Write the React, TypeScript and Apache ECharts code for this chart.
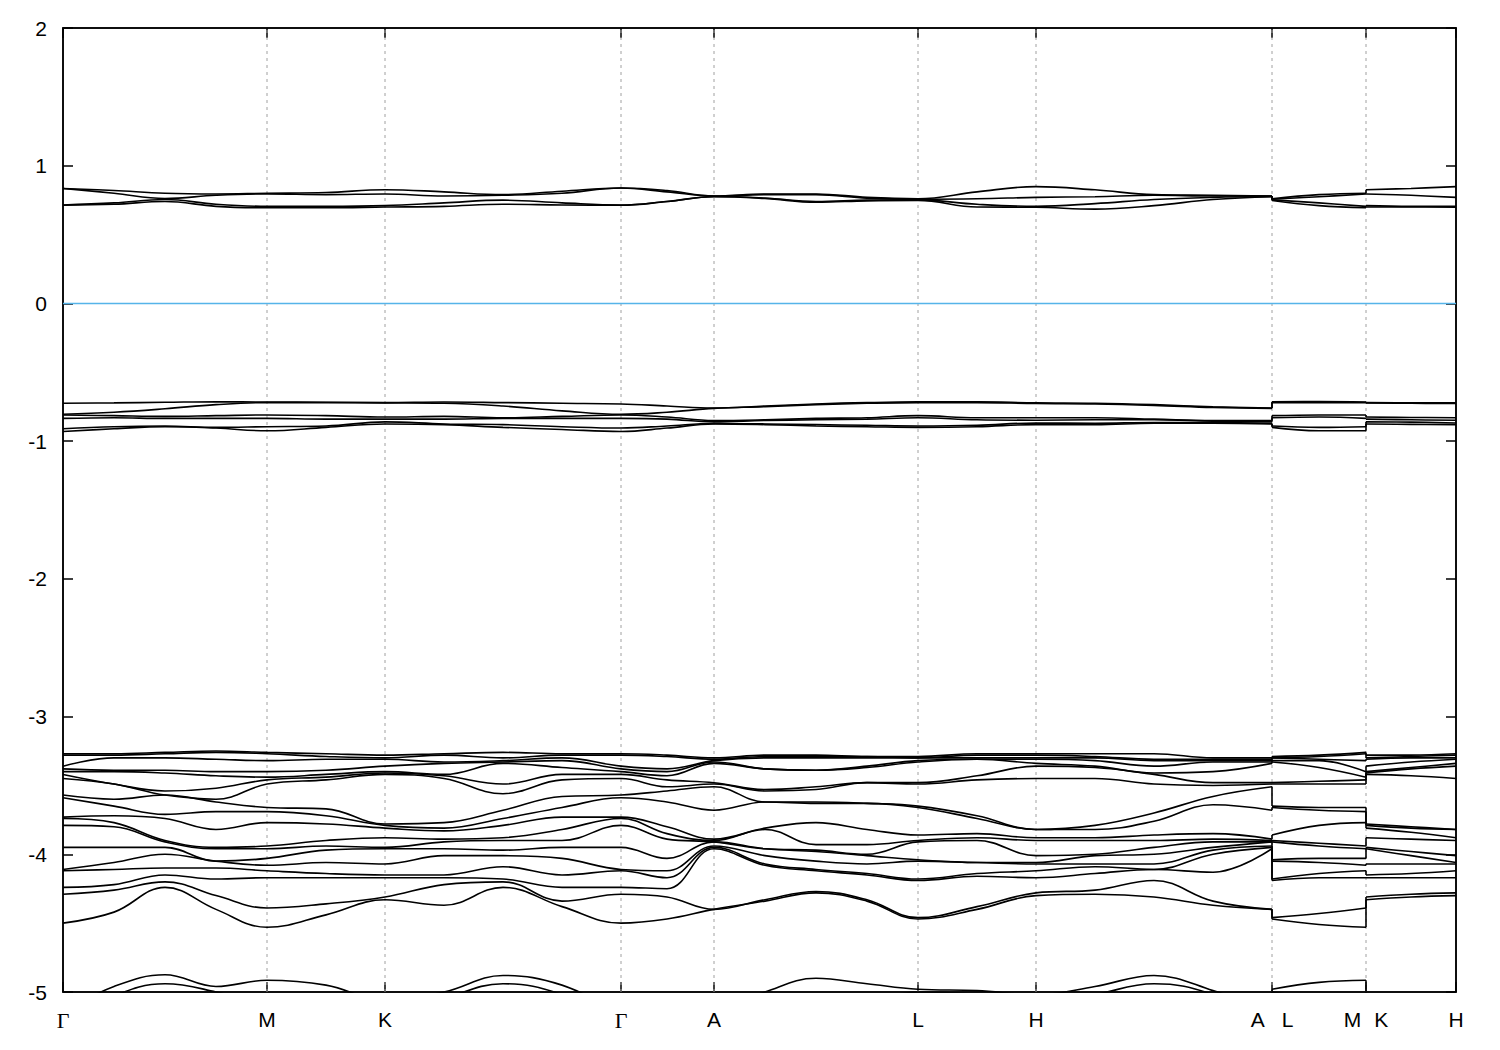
import React, { useEffect, useRef } from 'react';
import * as echarts from 'echarts';

// high-symmetry points along the k-path (path length units)
const kTicks = [0, 204, 322, 558, 651, 855, 973, 1209, 1303, 1393];
const kLabels = ['Γ', 'M', 'K', 'Γ', 'A', 'L', 'H', 'A|L', 'M|K', 'H'];

// sample positions: Γ-M-K-Γ-A-L-H-A, then L-M, then K-H
const pathX = [0, 51, 102, 153, 204, 263, 322, 381, 440, 499, 558, 604, 651, 702, 753, 804, 855, 914, 973, 1032, 1091, 1150, 1209];
const lmX = [1209, 1256, 1303];
const khX = [1303, 1348, 1393];

// energies (eV): 23 values on the main path, 3 on L-M, 3 on K-H
const upperBands = [
  [0.835, 0.82, 0.80, 0.795, 0.80, 0.805, 0.826, 0.81, 0.79, 0.815, 0.838, 0.82, 0.78, 0.795, 0.795, 0.77, 0.76, 0.81, 0.848, 0.825, 0.79, 0.785, 0.78, 0.76, 0.79, 0.80, 0.826, 0.835, 0.848],
  [0.835, 0.80, 0.762, 0.785, 0.795, 0.79, 0.795, 0.78, 0.785, 0.80, 0.838, 0.81, 0.78, 0.79, 0.79, 0.765, 0.757, 0.76, 0.77, 0.775, 0.785, 0.78, 0.78, 0.757, 0.775, 0.795, 0.795, 0.785, 0.77],
  [0.715, 0.73, 0.755, 0.72, 0.705, 0.705, 0.71, 0.73, 0.75, 0.73, 0.715, 0.74, 0.776, 0.765, 0.74, 0.75, 0.752, 0.72, 0.705, 0.725, 0.755, 0.77, 0.776, 0.752, 0.73, 0.705, 0.71, 0.705, 0.705],
  [0.713, 0.72, 0.74, 0.705, 0.695, 0.695, 0.70, 0.705, 0.72, 0.715, 0.713, 0.74, 0.775, 0.762, 0.735, 0.745, 0.748, 0.70, 0.698, 0.685, 0.71, 0.755, 0.775, 0.748, 0.71, 0.695, 0.70, 0.70, 0.698],
];

const middleBands = [
  [-0.725, -0.722, -0.718, -0.714, -0.716, -0.718, -0.72, -0.716, -0.72, -0.725, -0.73, -0.745, -0.76, -0.745, -0.73, -0.72, -0.715, -0.715, -0.722, -0.725, -0.735, -0.75, -0.76, -0.715, -0.713, -0.716, -0.72, -0.722, -0.722],
  [-0.805, -0.79, -0.765, -0.735, -0.72, -0.72, -0.722, -0.725, -0.745, -0.78, -0.805, -0.79, -0.762, -0.75, -0.735, -0.725, -0.72, -0.72, -0.727, -0.73, -0.74, -0.755, -0.762, -0.72, -0.72, -0.72, -0.722, -0.725, -0.727],
  [-0.81, -0.815, -0.82, -0.815, -0.81, -0.815, -0.825, -0.82, -0.83, -0.82, -0.81, -0.825, -0.85, -0.845, -0.835, -0.83, -0.815, -0.83, -0.83, -0.83, -0.84, -0.85, -0.85, -0.815, -0.81, -0.81, -0.825, -0.828, -0.83],
  [-0.835, -0.83, -0.835, -0.835, -0.835, -0.84, -0.84, -0.84, -0.835, -0.835, -0.835, -0.84, -0.86, -0.85, -0.845, -0.84, -0.83, -0.845, -0.848, -0.845, -0.845, -0.855, -0.86, -0.83, -0.825, -0.835, -0.84, -0.845, -0.848],
  [-0.91, -0.895, -0.89, -0.90, -0.895, -0.89, -0.86, -0.875, -0.88, -0.895, -0.905, -0.89, -0.872, -0.875, -0.88, -0.885, -0.89, -0.885, -0.868, -0.87, -0.865, -0.865, -0.872, -0.89, -0.90, -0.895, -0.86, -0.862, -0.868],
  [-0.93, -0.91, -0.895, -0.905, -0.925, -0.90, -0.875, -0.88, -0.90, -0.915, -0.93, -0.905, -0.875, -0.88, -0.89, -0.895, -0.90, -0.895, -0.88, -0.88, -0.87, -0.87, -0.875, -0.90, -0.925, -0.925, -0.875, -0.878, -0.88],
];

const deepBands = [
  [-5.15, -4.96, -4.875, -4.96, -4.915, -4.95, -5.06, -5.0, -4.88, -4.95, -5.15, -5.25, -5.15, -5.0, -4.9, -4.94, -4.98, -4.99, -5.02, -4.96, -4.88, -4.99, -5.15, -4.98, -4.93, -4.915, -5.06, -5.1, -5.02],
  [-5.25, -5.03, -4.94, -5.0, -5.1, -5.15, -5.2, -5.05, -4.94, -5.02, -5.25, -5.3, -5.25, -5.15, -5.05, -5.05, -5.0, -5.02, -5.1, -5.02, -4.94, -5.02, -5.25, -5.0, -5.05, -5.1, -5.2, -5.2, -5.1],
];

// lower manifold: energies at each k sample, sorted high to low (18 bands)
const lowG = [-3.27, -3.28, -3.36, -3.38, -3.40, -3.42, -3.45, -3.57, -3.59, -3.73, -3.74, -3.79, -3.95, -4.11, -4.12, -4.24, -4.29, -4.50];
const low114 = [-3.27, -3.28, -3.30, -3.39, -3.40, -3.49, -3.49, -3.60, -3.65, -3.72, -3.77, -3.80, -3.95, -4.06, -4.11, -4.22, -4.26, -4.42];
const low165 = [-3.26, -3.27, -3.30, -3.39, -3.41, -3.54, -3.57, -3.57, -3.71, -3.74, -3.90, -3.91, -3.95, -4.00, -4.10, -4.15, -4.20, -4.24];
const low216 = [-3.25, -3.26, -3.31, -3.40, -3.43, -3.52, -3.60, -3.62, -3.69, -3.82, -3.95, -3.96, -4.05, -4.05, -4.10, -4.18, -4.30, -4.40];
const lowM = [-3.26, -3.27, -3.32, -3.40, -3.44, -3.46, -3.49, -3.66, -3.69, -3.77, -3.94, -3.96, -4.03, -4.08, -4.12, -4.17, -4.39, -4.53];
const low326 = [-3.27, -3.29, -3.31, -3.39, -3.42, -3.44, -3.46, -3.67, -3.72, -3.78, -3.90, -3.94, -3.97, -4.06, -4.14, -4.17, -4.36, -4.44];
const lowK = [-3.28, -3.30, -3.31, -3.36, -3.40, -3.41, -3.42, -3.78, -3.79, -3.81, -3.88, -3.95, -3.96, -4.07, -4.15, -4.17, -4.31, -4.33];
const low444 = [-3.27, -3.28, -3.33, -3.34, -3.42, -3.43, -3.45, -3.77, -3.81, -3.83, -3.89, -3.91, -3.96, -4.01, -4.15, -4.17, -4.22, -4.37];
const low503 = [-3.26, -3.30, -3.32, -3.33, -3.34, -3.49, -3.56, -3.68, -3.74, -3.79, -3.88, -3.90, -3.97, -4.01, -4.09, -4.18, -4.20, -4.24];
const low562 = [-3.27, -3.28, -3.30, -3.32, -3.37, -3.42, -3.46, -3.58, -3.66, -3.73, -3.82, -3.90, -3.95, -4.03, -4.15, -4.24, -4.34, -4.38];
const low667 = [-3.28, -3.29, -3.38, -3.40, -3.43, -3.46, -3.51, -3.54, -3.62, -3.80, -3.85, -3.89, -4.03, -4.12, -4.17, -4.25, -4.31, -4.47];
const lowA = [-3.30, -3.31, -3.32, -3.33, -3.34, -3.48, -3.49, -3.51, -3.68, -3.89, -3.90, -3.91, -3.91, -3.94, -3.95, -3.96, -4.40, -4.40];
const low765 = [-3.28, -3.29, -3.30, -3.38, -3.38, -3.53, -3.54, -3.62, -3.62, -3.81, -3.82, -3.96, -3.96, -4.01, -4.07, -4.08, -4.33, -4.34];
const low816 = [-3.28, -3.29, -3.30, -3.39, -3.39, -3.51, -3.53, -3.62, -3.63, -3.77, -3.93, -3.97, -3.98, -4.05, -4.11, -4.12, -4.27, -4.28];
const low867 = [-3.29, -3.29, -3.30, -3.36, -3.37, -3.48, -3.48, -3.63, -3.63, -3.82, -3.93, -4.00, -4.01, -4.07, -4.14, -4.15, -4.33, -4.34];
const lowL = [-3.29, -3.30, -3.30, -3.32, -3.33, -3.48, -3.49, -3.65, -3.66, -3.86, -3.90, -3.91, -4.04, -4.05, -4.18, -4.19, -4.46, -4.47];
const low977 = [-3.27, -3.28, -3.30, -3.31, -3.31, -3.43, -3.46, -3.72, -3.74, -3.85, -3.88, -3.90, -4.06, -4.06, -4.14, -4.16, -4.38, -4.40];
const lowH = [-3.27, -3.28, -3.30, -3.31, -3.34, -3.36, -3.45, -3.82, -3.82, -3.88, -3.90, -4.01, -4.06, -4.07, -4.12, -4.17, -4.28, -4.30];
const low1095 = [-3.27, -3.29, -3.30, -3.32, -3.36, -3.37, -3.45, -3.79, -3.82, -3.88, -3.90, -4.00, -4.01, -4.07, -4.09, -4.14, -4.26, -4.29];
const low1154 = [-3.27, -3.31, -3.32, -3.36, -3.41, -3.42, -3.49, -3.70, -3.76, -3.86, -3.90, -3.95, -4.00, -4.07, -4.11, -4.11, -4.19, -4.31];
const low1213 = [-3.30, -3.31, -3.32, -3.33, -3.40, -3.48, -3.50, -3.58, -3.64, -3.85, -3.89, -3.91, -3.95, -3.97, -4.00, -4.13, -4.34, -4.37];
const lowLM = [-3.28, -3.29, -3.31, -3.32, -3.37, -3.47, -3.49, -3.66, -3.68, -3.79, -3.92, -3.94, -4.03, -4.06, -4.14, -4.17, -4.43, -4.51];
const lowKH = [-3.28, -3.29, -3.30, -3.33, -3.37, -3.38, -3.43, -3.80, -3.81, -3.84, -3.89, -3.98, -4.01, -4.07, -4.14, -4.17, -4.29, -4.31];

const lowerColumns = [
  lowG, low114, low165, low216, lowM, low326, lowK, low444, low503, low562, lowG, low667, lowA,
  low765, low816, low867, lowL, low977, lowH, low1095, low1154, low1213, lowA,
  lowL, lowLM, lowM, lowK, lowKH, lowH,
];

const FONT = 'Liberation Sans, Arial, sans-serif';

function bandSeries(row: number[]) {
  const base = {
    type: 'line',
    symbol: 'none',
    showSymbol: false,
    silent: true,
    clip: true,
    z: 3,
    lineStyle: { color: '#000', width: 1.6 },
  };
  return [
    { ...base, smooth: 0.4, data: pathX.map((x, i) => [x, row[i]]) },
    { ...base, data: [[lmX[0], row[22]], [lmX[0], row[23]]] },
    { ...base, smooth: 0.4, data: lmX.map((x, i) => [x, row[23 + i]]) },
    { ...base, data: [[khX[0], row[25]], [khX[0], row[26]]] },
    { ...base, smooth: 0.4, data: khX.map((x, i) => [x, row[26 + i]]) },
  ];
}

function labelFor(v: number) {
  const idx = kTicks.indexOf(v);
  const t = idx >= 0 ? kLabels[idx] : '';
  if (t === 'Γ') return '{g|Γ}';
  if (t === 'A|L') return '{t|A}{gapA|}{t|L}';
  if (t === 'M|K') return '{t|M}{gapM|}{t|K}';
  return '{t|' + t + '}';
}

export default function App() {
  const ref = useRef<HTMLDivElement>(null);
  useEffect(() => {
    if (!ref.current) return;
    const chart = echarts.init(ref.current, undefined, { renderer: 'svg' });
    const lowerRows = lowG.map((_, i) => lowerColumns.map((c) => c[i]));
    const series: any[] = [];
    // dashed verticals at interior high-symmetry points
    kTicks.slice(1, -1).forEach((k) => {
      series.push({
        type: 'line', symbol: 'none', silent: true, z: 1,
        lineStyle: { color: '#a0a0a0', width: 1, type: [3, 4] },
        data: [[k, -5], [k, 2]],
      });
    });
    series.push({
      type: 'line', symbol: 'none', silent: true, z: 2,
      lineStyle: { color: '#56b4e9', width: 1.5 },
      data: [[0, 0], [1393, 0]],
    });
    [...upperBands, ...middleBands, ...lowerRows, ...deepBands].forEach((row) => {
      series.push(...bandSeries(row));
    });

    const tickStyle = { show: true, inside: true, length: 10, lineStyle: { color: '#000', width: 1.5 } };
    const lineStyle = { show: true, onZero: false, lineStyle: { color: '#000', width: 1.5 } };
    chart.setOption({
      animation: false,
      backgroundColor: '#fff',
      grid: { left: 63, right: 44, top: 28, bottom: 58, show: true, borderColor: '#000', borderWidth: 1.5 },
      xAxis: [
        {
          type: 'value', min: 0, max: 1393, position: 'bottom',
          axisLine: lineStyle,
          splitLine: { show: false },
          axisTick: { ...tickStyle, customValues: kTicks },
          axisLabel: {
            customValues: kTicks,
            margin: 17,
            formatter: labelFor,
            rich: {
              t: { fontFamily: FONT, fontSize: 21, color: '#000' },
              g: { fontFamily: 'Liberation Serif, DejaVu Serif, serif', fontSize: 22, color: '#000' },
              gapA: { width: 17 },
              gapM: { width: 13 },
            },
          },
        },
        {
          type: 'value', min: 0, max: 1393, position: 'top',
          axisLine: lineStyle,
          splitLine: { show: false },
          axisTick: { ...tickStyle, customValues: kTicks },
          axisLabel: { show: false },
        },
      ],
      yAxis: [
        {
          type: 'value', min: -5, max: 2, interval: 1, position: 'left',
          axisLine: lineStyle,
          splitLine: { show: false },
          axisTick: tickStyle,
          axisLabel: { color: '#000', fontFamily: FONT, fontSize: 21, margin: 16 },
        },
        {
          type: 'value', min: -5, max: 2, interval: 1, position: 'right',
          axisLine: lineStyle,
          splitLine: { show: false },
          axisTick: tickStyle,
          axisLabel: { show: false },
        },
      ],
      series,
    });
    return () => chart.dispose();
  }, []);
  return (
    <div
      ref={ref}
      style={{ position: 'absolute', left: 0, top: 0, width: 1500, height: 1050, background: '#fff' }}
    />
  );
}
